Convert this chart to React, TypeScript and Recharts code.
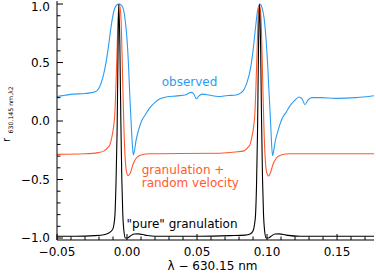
import { LineChart, Line, XAxis, YAxis, ReferenceDot } from "recharts";

const FONT = "'DejaVu Sans', sans-serif";
const BLUE = "#2b9cf2";
const ORANGE = "#ff5a2c";
const INK = "#000";

const X_DOMAIN = [-0.05, 0.1764];
const Y_DOMAIN = [-1.017, 1.026];

const xMajorTicks = [-0.05, 0, 0.05, 0.1, 0.15];
const xMinorTicks = [
  -0.05, -0.04, -0.03, -0.02, -0.01, 0, 0.01, 0.02, 0.03, 0.04, 0.05, 0.06,
  0.07, 0.08, 0.09, 0.1, 0.11, 0.12, 0.13, 0.14, 0.15, 0.16, 0.17,
];
const yMajorTicks = [-1, -0.5, 0, 0.5, 1];
const yMinorTicks = [
  -1, -0.9, -0.8, -0.7, -0.6, -0.5, -0.4, -0.3, -0.2, -0.1, 0, 0.1, 0.2, 0.3,
  0.4, 0.5, 0.6, 0.7, 0.8, 0.9, 1,
];

// [lambda - 630.15 nm, r]
const observed = [
  [-0.05, 0.21], [-0.0443, 0.22], [-0.0386, 0.23], [-0.03, 0.235], [-0.0243, 0.245],
  [-0.0214, 0.26], [-0.0193, 0.3], [-0.0171, 0.38], [-0.015, 0.5], [-0.0132, 0.64],
  [-0.0118, 0.77], [-0.0104, 0.88], [-0.0089, 0.96], [-0.0075, 0.99], [-0.0054, 1.0],
  [-0.0036, 0.985], [-0.0021, 0.93], [-0.0011, 0.84], [0.0, 0.7], [0.0011, 0.47],
  [0.0021, 0.19], [0.0031, -0.05], [0.0038, -0.2], [0.0045, -0.29], [0.0054, -0.25],
  [0.0064, -0.17], [0.0082, -0.08], [0.0104, 0.0], [0.0129, 0.05], [0.0164, 0.115],
  [0.02, 0.16], [0.0236, 0.19], [0.0279, 0.205], [0.0357, 0.215], [0.0421, 0.225],
  [0.0457, 0.245], [0.0475, 0.235], [0.0496, 0.19], [0.0514, 0.215], [0.0536, 0.23],
  [0.0593, 0.22], [0.065, 0.21], [0.0721, 0.218], [0.0779, 0.222], [0.0814, 0.24],
  [0.0836, 0.27], [0.0857, 0.33], [0.0879, 0.43], [0.09, 0.6], [0.0918, 0.8],
  [0.0932, 0.94], [0.095, 1.0], [0.0964, 0.97], [0.0979, 0.88], [0.0993, 0.7],
  [0.1005, 0.47], [0.1014, 0.25], [0.1025, 0.0], [0.1032, -0.18], [0.1039, -0.295],
  [0.1048, -0.25], [0.1061, -0.16], [0.1079, -0.08], [0.1107, 0.02], [0.1136, 0.074],
  [0.1164, 0.13], [0.1196, 0.174], [0.1229, 0.205], [0.125, 0.19], [0.1271, 0.14],
  [0.1293, 0.18], [0.1321, 0.2], [0.1379, 0.2], [0.1493, 0.194], [0.1636, 0.2],
  [0.1764, 0.216],
];

const granRandom = [
  [-0.05, -0.285], [-0.03, -0.28], [-0.0207, -0.27], [-0.0164, -0.255], [-0.0136, -0.225],
  [-0.0121, -0.2], [-0.0107, -0.13], [-0.0096, -0.05], [-0.0086, 0.08], [-0.0079, 0.3],
  [-0.0071, 0.6], [-0.0064, 0.88], [-0.0054, 1.0], [-0.0043, 0.88], [-0.0036, 0.6],
  [-0.0029, 0.25], [-0.0021, -0.1], [-0.0014, -0.3], [-0.0004, -0.43], [0.0009, -0.467],
  [0.0025, -0.44], [0.0043, -0.37], [0.0064, -0.32], [0.01, -0.29], [0.0164, -0.28],
  [0.0379, -0.278], [0.0664, -0.275], [0.0771, -0.265], [0.0836, -0.255], [0.0864, -0.225],
  [0.0879, -0.2], [0.0893, -0.13], [0.0904, -0.05], [0.0914, 0.08], [0.0921, 0.3],
  [0.0929, 0.6], [0.0936, 0.88], [0.0946, 1.0], [0.0957, 0.88], [0.0964, 0.6],
  [0.0971, 0.25], [0.0979, -0.1], [0.0986, -0.3], [0.0996, -0.43], [0.1011, -0.47],
  [0.1025, -0.44], [0.1043, -0.37], [0.1064, -0.32], [0.11, -0.29], [0.1164, -0.28],
  [0.145, -0.28], [0.1764, -0.28],
];

const pureGran = [
  [-0.05, -0.985], [-0.0371, -0.985], [-0.0229, -0.98], [-0.0157, -0.97], [-0.0121, -0.95],
  [-0.01, -0.92], [-0.0093, -0.88], [-0.0086, -0.8], [-0.0079, -0.55], [-0.0071, -0.1],
  [-0.0064, 0.6], [-0.0059, 1.0], [-0.0051, 0.65], [-0.0044, 0.0], [-0.0037, -0.5],
  [-0.003, -0.8], [-0.0023, -0.93], [-0.0011, -1.0], [0.0004, -1.0], [0.0021, -0.985],
  [0.005, -0.966], [0.0079, -0.965], [0.0129, -0.975], [0.02, -0.985], [0.0343, -0.985],
  [0.0521, -0.985], [0.0736, -0.98], [0.0843, -0.975], [0.0879, -0.965], [0.09, -0.94],
  [0.0911, -0.88], [0.0918, -0.8], [0.0925, -0.55], [0.0932, -0.1], [0.0939, 0.6],
  [0.0946, 1.0], [0.0954, 0.65], [0.0961, 0.0], [0.0968, -0.5], [0.0975, -0.8],
  [0.0982, -0.93], [0.0994, -1.0], [0.1009, -1.0], [0.1029, -0.985], [0.1057, -0.966],
  [0.1086, -0.965], [0.1136, -0.975], [0.1236, -0.985], [0.1521, -0.985], [0.1764, -0.985],
];

const toRows = (pairs: number[][]) => pairs.map(([x, y]) => ({ x, y }));

const isMajor = (v: number, majors: number[]) => majors.some((m) => Math.abs(m - v) < 1e-6);
const fmt = (v: number, digits: number) => {
  const s = Math.abs(v).toFixed(digits);
  return v < -1e-9 ? "\u2212" + s : s;
};

const MAJOR_LEN = 6;
const MINOR_LEN = 3.5;
const FS = 12;

function BottomTick({ x, y, payload }: any) {
  const major = isMajor(payload.value, xMajorTicks);
  return (
    <g>
      <line x1={x} x2={x} y1={y} y2={y - (major ? MAJOR_LEN : MINOR_LEN)} stroke={INK} />
      {major && (
        <text x={x} y={y + 15.5} textAnchor="middle" fontFamily={FONT} fontSize={FS} fill={INK}>
          {fmt(payload.value, 2)}
        </text>
      )}
    </g>
  );
}

function TopTick({ x, y, payload }: any) {
  const major = isMajor(payload.value, xMajorTicks);
  return <line x1={x} x2={x} y1={y} y2={y + (major ? MAJOR_LEN : MINOR_LEN)} stroke={INK} />;
}

function LeftTick({ x, y, payload }: any) {
  const major = isMajor(payload.value, yMajorTicks);
  // keep the top label inside the picture
  const ty = Math.max(y + 4.3, 11);
  return (
    <g>
      <line x1={x} x2={x + (major ? MAJOR_LEN : MINOR_LEN)} y1={y} y2={y} stroke={INK} />
      {major && (
        <text x={x - 7} y={ty} textAnchor="end" fontFamily={FONT} fontSize={FS} fill={INK}>
          {fmt(payload.value, 1)}
        </text>
      )}
    </g>
  );
}

function RightTick({ x, y, payload }: any) {
  const major = isMajor(payload.value, yMajorTicks);
  return <line x1={x} x2={x - (major ? MAJOR_LEN : MINOR_LEN)} y1={y} y2={y} stroke={INK} />;
}

const YTitle = ({ viewBox }: any) => {
  const x = viewBox.x + 9.5;
  const y = viewBox.y + 141;
  return (
    <text transform={`translate(${x},${y}) rotate(-90)`} fontFamily={FONT} fill={INK}>
      <tspan fontSize={10}>r</tspan>
      <tspan fontSize={6.2} dx={4.5} dy={3}>
        630.145 nm,λ2
      </tspan>
    </text>
  );
};

const XTitle = ({ viewBox }: any) => (
  <text
    x={viewBox.x + viewBox.width / 2 - 3}
    y={viewBox.y + 29.5}
    textAnchor="middle"
    fontFamily={FONT}
    fontSize={FS}
    fill={INK}
  >
    λ − 630.15 nm
  </text>
);

const note = (lines: string[], color: string) => ({ viewBox }: any) => (
  <text x={viewBox.x} y={viewBox.y} fontFamily={FONT} fontSize={FS} fill={color}>
    {lines.map((t, i) => (
      <tspan key={i} x={viewBox.x} dy={i === 0 ? 0 : 13}>
        {t}
      </tspan>
    ))}
  </text>
);

export default function App() {
  return (
    <div style={{ position: "absolute", left: 0, top: 0, background: "#fff" }}>
      <LineChart width={376} height={280} margin={{ top: 1, right: 2, bottom: 0, left: 0 }}>
        <XAxis
          xAxisId="b"
          dataKey="x"
          type="number"
          domain={X_DOMAIN}
          allowDataOverflow
          ticks={xMinorTicks}
          interval={0}
          tickSize={0}
          tickMargin={0}
          tickLine={false}
          tick={<BottomTick />}
          axisLine={{ stroke: INK }}
          height={40}
          label={XTitle}
        />
        <XAxis
          xAxisId="t"
          orientation="top"
          mirror
          dataKey="x"
          type="number"
          domain={X_DOMAIN}
          allowDataOverflow
          ticks={xMinorTicks}
          interval={0}
          tickSize={0}
          tickMargin={0}
          tickLine={false}
          tick={<TopTick />}
          axisLine={{ stroke: INK }}
          height={0}
        />
        <YAxis
          yAxisId="l"
          type="number"
          domain={Y_DOMAIN}
          allowDataOverflow
          ticks={yMinorTicks}
          interval={0}
          tickSize={0}
          tickMargin={0}
          tickLine={false}
          tick={<LeftTick />}
          axisLine={{ stroke: INK }}
          width={57}
          label={YTitle}
        />
        <YAxis
          yAxisId="r"
          orientation="right"
          mirror
          type="number"
          domain={Y_DOMAIN}
          allowDataOverflow
          ticks={yMinorTicks}
          interval={0}
          tickSize={0}
          tickMargin={0}
          tickLine={false}
          tick={<RightTick />}
          axisLine={{ stroke: INK }}
          width={0}
        />
        <Line
          xAxisId="b"
          yAxisId="l"
          data={toRows(observed)}
          dataKey="y"
          type="monotone"
          stroke={BLUE}
          strokeWidth={1.1}
          dot={false}
          isAnimationActive={false}
        />
        <Line
          xAxisId="b"
          yAxisId="l"
          data={toRows(granRandom)}
          dataKey="y"
          type="monotone"
          stroke={ORANGE}
          strokeWidth={1.1}
          dot={false}
          isAnimationActive={false}
        />
        <Line
          xAxisId="b"
          yAxisId="l"
          data={toRows(pureGran)}
          dataKey="y"
          type="monotone"
          stroke={INK}
          strokeWidth={1.1}
          dot={false}
          isAnimationActive={false}
        />
        <ReferenceDot xAxisId="b" yAxisId="l" x={0.0248} y={0.303} r={0} fill="none" stroke="none"
          label={note(["observed"], BLUE)} />
        <ReferenceDot xAxisId="b" yAxisId="l" x={0.0105} y={-0.455} r={0} fill="none" stroke="none"
          label={note(["granulation +", "random velocity"], ORANGE)} />
        <ReferenceDot xAxisId="b" yAxisId="l" x={-0.0003} y={-0.915} r={0} fill="none" stroke="none"
          label={note(['"pure" granulation'], INK)} />
      </LineChart>
    </div>
  );
}
